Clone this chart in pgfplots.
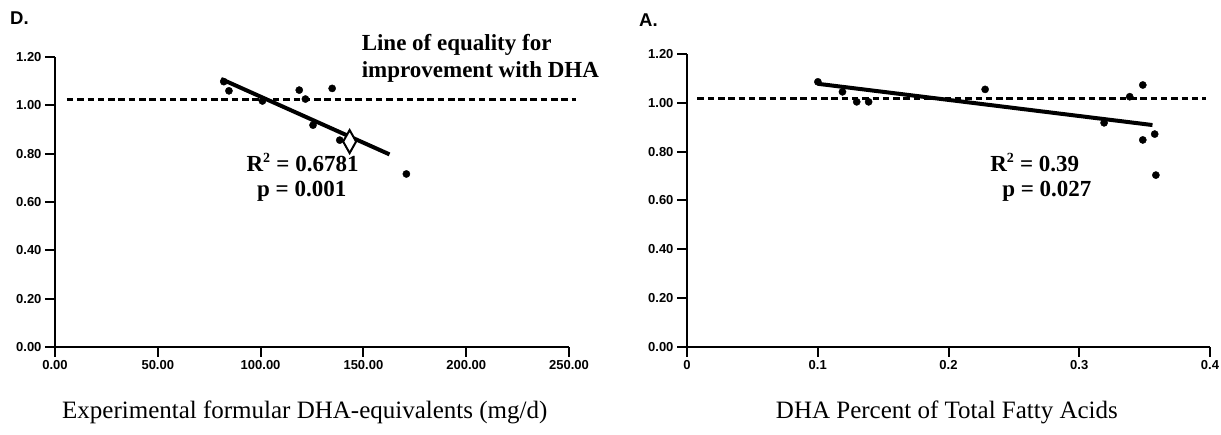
\documentclass[border=0pt]{standalone}
\usepackage{fontspec}
\setmainfont{Liberation Serif}
\setsansfont{Liberation Sans}
\usepackage{pgfplots}
\pgfplotsset{compat=1.18}
\tikzset{ann/.style={font=\bfseries\fontsize{23}{26}\selectfont, inner sep=0pt}}
\begin{document}
\begin{tikzpicture}
\path[use as bounding box] (0pt,0pt) rectangle (1221pt,435pt);
\pgfplotsset{
  panel/.style={
    scale only axis, clip=false,
    axis lines=left, axis line style={-, line width=2pt},
    tick align=outside, major tick length=10pt,
    tick style={black, line width=2pt},
    ymin=0, ymax=1.2,
    ytick={0,0.2,0.4,0.6,0.8,1.0,1.2},
    yticklabels={0.00,0.20,0.40,0.60,0.80,1.00,1.20},
    ticklabel style={font=\sffamily\bfseries\fontsize{13}{13}\selectfont},
    xlabel style={font=\fontsize{25}{28}\selectfont, anchor=center},
  },
}
\node[anchor=base west, inner sep=0pt, font=\sffamily\bfseries\fontsize{18.5}{20}\selectfont] at (10pt,410pt) {D.};
\node[anchor=base west, inner sep=0pt, font=\sffamily\bfseries\fontsize{18.5}{20}\selectfont] at (639pt,408pt) {A.};

\begin{axis}[panel, at={(55pt,88pt)}, anchor=origin, width=514pt, height=290pt,
  xmin=0, xmax=250, xtick={0,50,100,150,200,250},
  xticklabels={0.00,50.00,100.00,150.00,200.00,250.00},
  xlabel={Experimental formular DHA-equivalents (mg/d)},
  xlabel style={at={(axis description cs:0.486,-0.224)}}]
\addplot[black, line width=2.6pt, dash pattern=on 6.5pt off 3.8pt] coordinates {(5.8,1.025) (253.4,1.025)};
\addplot[black, line width=4pt] coordinates {(80.8,1.109) (162.7,0.797)};
\addplot[only marks, mark=*, mark size=3.6pt, black] coordinates {
(82.1,1.098) (84.6,1.060) (100.9,1.018) (118.8,1.063) (121.8,1.026)
(134.8,1.070) (125.5,0.918) (138.5,0.856) (170.9,0.716)};
\addplot[only marks, mark=diamond*, mark size=11.5pt, mark options={xscale=0.75, fill=white, draw=black, line width=2pt}] coordinates {(143.3,0.850)};
\node[ann, anchor=base west] at (axis cs:149.1,1.2288) {Line of equality for};
\node[ann, anchor=base west] at (axis cs:149.1,1.1158) {improvement with DHA};
\node[ann, anchor=base] at (axis cs:120.4,0.725) {R\textsuperscript{\fontsize{14}{14}\selectfont 2} = 0.6781};
\node[ann, anchor=base] at (axis cs:120.0,0.621) {p = 0.001};
\end{axis}

\begin{axis}[panel, at={(687pt,88pt)}, anchor=origin, width=523pt, height=293pt,
  xmin=0, xmax=0.4, xtick={0,0.1,0.2,0.3,0.4},
  xticklabels={0,0.1,0.2,0.3,0.4},
  xlabel={DHA Percent of Total Fatty Acids},
  xlabel style={at={(axis description cs:0.497,-0.222)}}]
\addplot[black, line width=2.6pt, dash pattern=on 6.5pt off 3.8pt] coordinates {(0.008,1.018) (0.397,1.018)};
\addplot[black, line width=4pt] coordinates {(0.100,1.078) (0.356,0.909)};
\addplot[only marks, mark=*, mark size=3.6pt, black] coordinates {
(0.1001,1.086) (0.1189,1.045) (0.1298,1.004) (0.1389,1.004) (0.228,1.055)
(0.319,0.918) (0.3386,1.025) (0.3486,1.073) (0.3486,0.848) (0.3577,0.872) (0.3586,0.704)};
\node[ann, anchor=base west] at (axis cs:0.2318,0.718) {R\textsuperscript{\fontsize{14}{14}\selectfont 2} = 0.39};
\node[ann, anchor=base west] at (axis cs:0.241,0.6155) {p = 0.027};
\end{axis}
\end{tikzpicture}
\end{document}
